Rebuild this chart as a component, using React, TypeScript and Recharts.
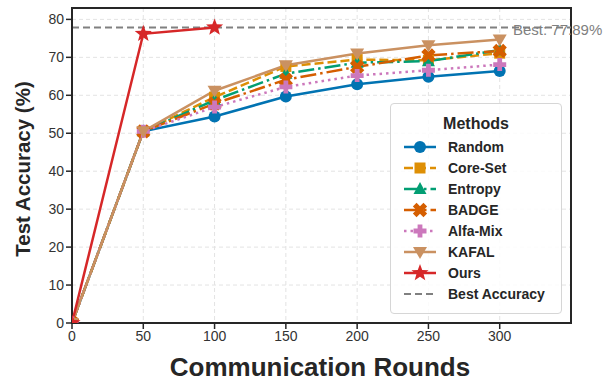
import {
    CartesianGrid,
    Line,
    LineChart,
    ReferenceArea,
    ReferenceLine,
    XAxis,
    YAxis,
} from "recharts";

const rounds = [0, 50, 100, 150, 200, 250, 300];
const randomAcc = [0, 50.5, 54.4, 59.7, 62.9, 64.9, 66.4];
const coreSetAcc = [0, 50.5, 59.5, 67.6, 69.4, 69.2, 71.1];
const entropyAcc = [0, 50.5, 58.7, 65.7, 68.6, 69.0, 71.9];
const badgeAcc = [0, 50.5, 57.8, 64.1, 67.5, 70.5, 71.7];
const alfaMixAcc = [0, 50.5, 56.9, 62.2, 65.2, 66.6, 68.1];
const kafalAcc = [0, 50.5, 61.2, 67.9, 71.0, 73.2, 74.7];
const oursAcc = [0, 76.2, 77.89];
const bestAcc = 77.89;

const xTicks = [0, 50, 100, 150, 200, 250, 300];
const yTicks = [0, 10, 20, 30, 40, 50, 60, 70, 80];

const FONT = "'Liberation Sans', Arial, sans-serif";
const INK = "#262626";

type Shape = "circle" | "square" | "tri-up" | "x" | "plus" | "tri-down" | "star";

interface Series {
    key: string;
    name: string;
    color: string;
    dash?: string;
    shape: Shape;
}

const series: Series[] = [
    {key: "random", name: "Random", color: "#0173b2", shape: "circle"},
    {key: "coreSet", name: "Core-Set", color: "#de8f05", dash: "9 4", shape: "square"},
    {key: "entropy", name: "Entropy", color: "#029e73", dash: "16 4 2.5 4", shape: "tri-up"},
    {key: "badge", name: "BADGE", color: "#d55e00", dash: "16 4 2.5 4", shape: "x"},
    {key: "alfaMix", name: "Alfa-Mix", color: "#cc78bc", dash: "2.5 4", shape: "plus"},
    {key: "kafal", name: "KAFAL", color: "#ca9161", shape: "tri-down"},
    {key: "ours", name: "Ours", color: "#d62728", shape: "star"},
];

const chartData = rounds.map((r, i) => ({
    round: r,
    random: randomAcc[i],
    coreSet: coreSetAcc[i],
    entropy: entropyAcc[i],
    badge: badgeAcc[i],
    alfaMix: alfaMixAcc[i],
    kafal: kafalAcc[i],
    ours: i < oursAcc.length ? oursAcc[i] : null,
}));

function crossPoints(cx: number, cy: number, w: number, l: number, rot: number) {
    // plus-shaped polygon, rotated 45deg for the X marker
    const base = [
        [-w, -l], [w, -l], [w, -w], [l, -w], [l, w], [w, w],
        [w, l], [-w, l], [-w, w], [-l, w], [-l, -w], [-w, -w],
    ];
    const c = Math.cos(rot), s = Math.sin(rot);
    return base.map(([x, y]) => `${cx + x * c - y * s},${cy + x * s + y * c}`).join(" ");
}

function starPoints(cx: number, cy: number, ro: number, ri: number) {
    const pts: string[] = [];
    for (let i = 0; i < 10; i++) {
        const r = i % 2 === 0 ? ro : ri;
        const a = -Math.PI / 2 + (i * Math.PI) / 5;
        pts.push(`${cx + r * Math.cos(a)},${cy + r * Math.sin(a)}`);
    }
    return pts.join(" ");
}

function Marker({shape, cx, cy, color}: {shape: Shape; cx: number; cy: number; color: string}) {
    switch (shape) {
        case "circle":
            return <circle cx={cx} cy={cy} r={6} fill={color}/>;
        case "square":
            return <rect x={cx - 5.5} y={cy - 5.5} width={11} height={11} fill={color}/>;
        case "tri-up":
            return <polygon points={`${cx},${cy - 7} ${cx - 6.5},${cy + 5} ${cx + 6.5},${cy + 5}`} fill={color}/>;
        case "tri-down":
            return <polygon points={`${cx},${cy + 7} ${cx - 7},${cy - 5} ${cx + 7},${cy - 5}`} fill={color}/>;
        case "x":
            return <polygon points={crossPoints(cx, cy, 2.6, 7.5, Math.PI / 4)} fill={color}/>;
        case "plus":
            return <polygon points={crossPoints(cx, cy, 2.4, 6.5, 0)} fill={color}/>;
        case "star":
            return <polygon points={starPoints(cx, cy, 9, 3.8)} fill={color}/>;
    }
}

function makeDot(s: Series) {
    return (props: any) => {
        const {cx, cy, index, value} = props;
        if (value == null || cx == null || cy == null) return <g key={index}/>;
        return <Marker key={index} shape={s.shape} cx={cx} cy={cy} color={s.color}/>;
    };
}

function LegendBox() {
    const rowH = 20.9;
    return (
        <div
            style={{
                position: "absolute",
                left: 390,
                top: 103,
                width: 172,
                height: 211,
                boxSizing: "border-box",
                border: "1px solid #d6d6d6",
                borderRadius: 4,
                background: "rgba(255,255,255,0.85)",
                fontFamily: FONT,
                color: INK,
            }}
        >
            <div style={{position: "absolute", top: 11, width: "100%", textAlign: "center", fontWeight: 700, fontSize: 16}}>
                Methods
            </div>
            {series.map((s, i) => (
                <div key={s.key} style={{position: "absolute", left: 12, top: 33 + i * rowH, height: rowH, display: "flex", alignItems: "center"}}>
                    <svg width={34} height={20}>
                        <line x1={1} y1={10} x2={33} y2={10} stroke={s.color} strokeWidth={2.5} strokeDasharray={s.dash}/>
                        <Marker shape={s.shape} cx={17} cy={10} color={s.color}/>
                    </svg>
                    <span style={{marginLeft: 11, fontWeight: 700, fontSize: 14}}>{s.name}</span>
                </div>
            ))}
            <div style={{position: "absolute", left: 12, top: 33 + series.length * rowH, height: rowH, display: "flex", alignItems: "center"}}>
                <svg width={34} height={20}>
                    <line x1={1} y1={10} x2={33} y2={10} stroke="#808080" strokeWidth={2} strokeDasharray="7 4"/>
                </svg>
                <span style={{marginLeft: 11, fontWeight: 700, fontSize: 14}}>Best Accuracy</span>
            </div>
        </div>
    );
}

export default function App() {
    return (
        <div style={{position: "absolute", left: 0, top: 0, width: 615, height: 382, background: "#fff"}}>
            <LineChart
                width={615}
                height={382}
                data={chartData}
                margin={{top: 8, right: 44, bottom: 29, left: 8}}
            >
                <CartesianGrid stroke="#e3e3e3" strokeDasharray="4 3" strokeWidth={1}/>
                <XAxis
                    dataKey="round"
                    type="number"
                    domain={[0, 350]}
                    allowDataOverflow
                    ticks={xTicks}
                    height={30}
                    axisLine={{stroke: INK, strokeWidth: 2}}
                    tickLine={{stroke: INK, strokeWidth: 1.5}}
                    tickSize={6}
                    tick={{fill: "#333", fontSize: 14, fontFamily: FONT}}
                    label={{
                        content: () => (
                            <text x={320} y={376} textAnchor="middle" fontFamily={FONT} fontWeight={700}
                                  fontSize={26} fill={INK}>
                                Communication Rounds
                            </text>
                        ),
                    }}
                />
                <YAxis
                    type="number"
                    domain={[0, 83]}
                    allowDataOverflow
                    ticks={yTicks}
                    width={64}
                    axisLine={{stroke: INK, strokeWidth: 2}}
                    tickLine={{stroke: INK, strokeWidth: 1.5}}
                    tickSize={6}
                    tick={{fill: "#333", fontSize: 14, fontFamily: FONT}}
                    label={{
                        content: () => (
                            <text x={30} y={169} textAnchor="middle" transform="rotate(-90 30 169)"
                                  fontFamily={FONT} fontWeight={700} fontSize={20.5} fill={INK}>
                                Test Accuracy (%)
                            </text>
                        ),
                    }}
                />
                <ReferenceArea x1={0} x2={350} y1={0} y2={83} fill="none" stroke={INK} strokeWidth={2}
                               ifOverflow="visible"/>
                <ReferenceLine
                    y={bestAcc}
                    stroke="#808080"
                    strokeWidth={2}
                    strokeDasharray="7 4"
                    label={{
                        content: ({viewBox}: any) => (
                            <text x={viewBox.x + viewBox.width - 58} y={viewBox.y + 8} fontFamily={FONT}
                                  fontSize={15} fill="#808080">
                                Best: 77.89%
                            </text>
                        ),
                    }}
                />
                {series.map((s) => (
                    <Line
                        key={s.key}
                        dataKey={s.key}
                        name={s.name}
                        stroke={s.color}
                        strokeWidth={2.5}
                        strokeDasharray={s.dash}
                        dot={makeDot(s)}
                        activeDot={false}
                        connectNulls={false}
                        isAnimationActive={false}
                    />
                ))}
            </LineChart>
            <LegendBox/>
        </div>
    );
}
